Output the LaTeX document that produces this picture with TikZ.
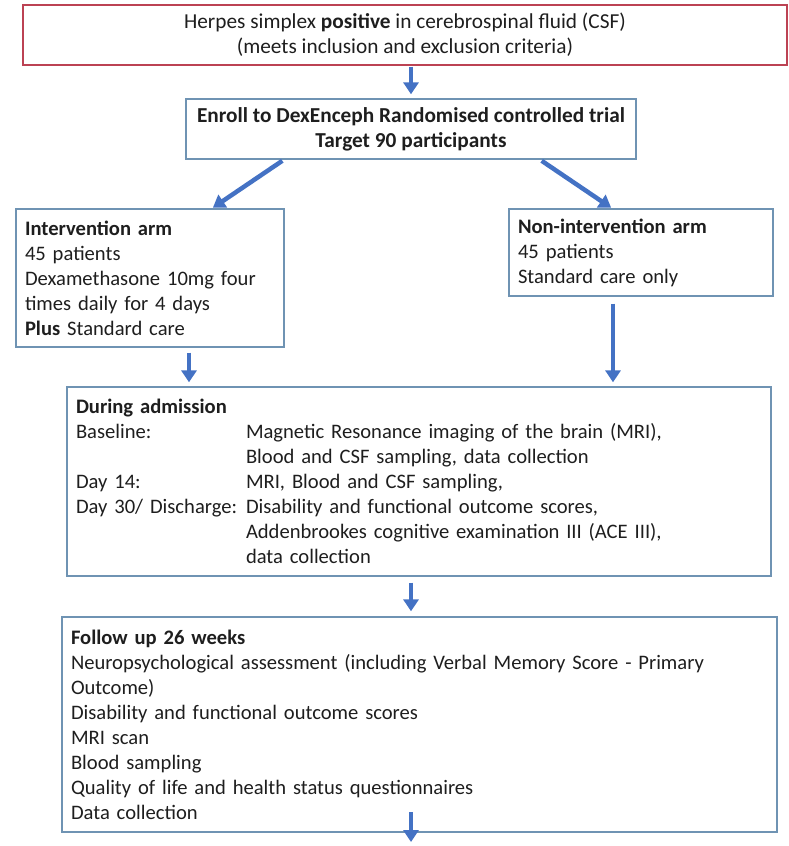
\documentclass[tikz,border=0pt]{standalone}
\usepackage{fontspec}
\setmainfont{Carlito}
\usepackage{xcolor}
\usetikzlibrary{positioning,calc,arrows.meta}
\definecolor{boxline}{HTML}{6F93B3}
\definecolor{redline}{HTML}{BC4253}
\definecolor{arrowblue}{HTML}{4472C4}
\definecolor{txt}{HTML}{1E1E1E}
\newcommand{\daycol}[1]{\makebox[170pt][l]{#1}}

\begin{document}
\begin{tikzpicture}[x=1pt,y=-1pt,
    box/.style={rectangle,draw=boxline,line width=1.3pt,inner xsep=9pt,inner ysep=0pt,align=left,text=txt,font=\fontsize{20.6}{25}\selectfont},
    bigbox/.style={box,align=center,font=\fontsize{21.3}{25}\selectfont},
    redbox/.style={bigbox,draw=redline},
    arrow/.style={-{Triangle[width=15pt,length=12pt]},line width=4.5pt,arrowblue}
    ]
  \useasboundingbox (0,0) rectangle (788,846);

  \node[redbox,minimum width=764pt,minimum height=60pt] (csf) at (405,35) {
    Herpes simplex \textbf{positive} in cerebrospinal fluid (CSF)\\
    (meets inclusion and exclusion criteria)
  };

  \node[bigbox,minimum width=450pt,minimum height=60pt] (enroll) at (411,129) {
    \textbf{Enroll to DexEnceph Randomised controlled trial}\\
    \textbf{Target 90 participants}
  };

  \node[box,text width=250pt,minimum height=138pt] (interv) at (150,278) {
    \textbf{Intervention arm}\\
    45 patients\\
    Dexamethasone 10mg four\\
    times daily for 4 days\\
    \textbf{Plus} Standard care
  };

  \node[box,text width=246pt,minimum height=87pt] (nonint) at (641,252.5) {
    \textbf{Non-intervention arm}\\
    45 patients\\
    Standard care only
  };

  \node[box,text width=686pt,minimum height=189pt] (admit) at (419,481.5) {
    \textbf{During admission}\\
    \daycol{Baseline:}Magnetic Resonance imaging of the brain (MRI),\\
    \daycol{}Blood and CSF sampling, data collection\\
    \daycol{Day 14:}MRI, Blood and CSF sampling,\\
    \daycol{Day 30/ Discharge:}Disability and functional outcome scores,\\
    \daycol{}Addenbrookes cognitive examination III (ACE III),\\
    \daycol{}data collection
  };

  \node[box,text width=697pt,minimum height=215pt] (follow) at (419.5,724.5) {
    \textbf{Follow up 26 weeks}\\
    Neuropsychological assessment (including Verbal Memory Score - Primary\\
    Outcome)\\
    Disability and functional outcome scores\\
    MRI scan\\
    Blood sampling\\
    Quality of life and health status questionnaires\\
    Data collection
  };

  \coordinate (tailA) at (411,812);
  \coordinate (tailB) at (411,842);

  \draw[arrow,shorten <=1pt,shorten >=4pt] ([xshift=6pt]csf.south) -- ([xshift=0pt]enroll.north);
  \draw[arrow,shorten <=2pt,shorten >=1pt] ([xshift=-127pt]enroll.south) -- ([xshift=62pt]interv.north);
  \draw[arrow,shorten <=2pt,shorten >=1pt] ([xshift=129pt]enroll.south) -- ([xshift=-29pt]nonint.north);
  \draw[arrow,shorten <=5pt,shorten >=4pt] ([xshift=39pt]interv.south) -- ([xshift=39pt]interv.south |- admit.north);
  \draw[arrow,shorten <=7pt,shorten >=4pt] ([xshift=-28pt]nonint.south) -- ([xshift=-28pt]nonint.south |- admit.north);
  \draw[arrow,shorten <=6pt,shorten >=5pt] ([xshift=-8pt]admit.south) -- ([xshift=-8pt]admit.south |- follow.north);
  \draw[arrow] (tailA) -- (tailB);

\end{tikzpicture}
\end{document}
